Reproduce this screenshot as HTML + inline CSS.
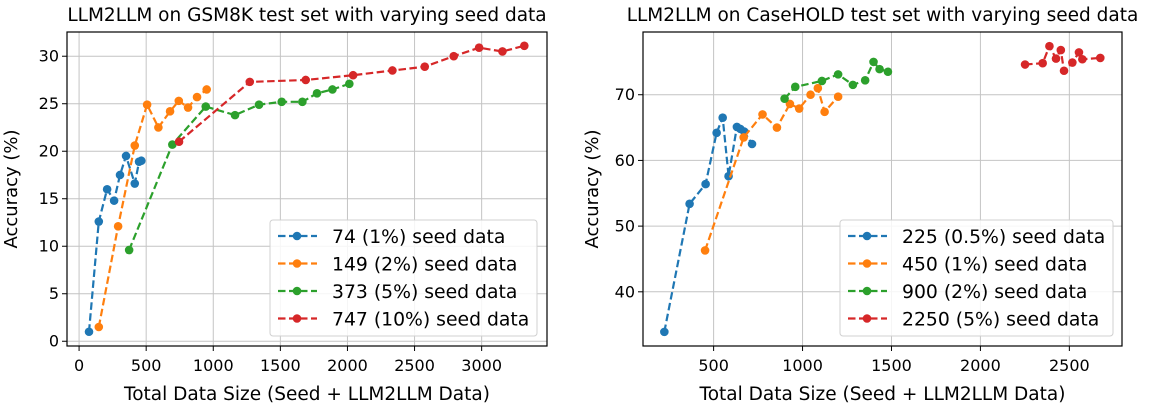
<!DOCTYPE html>
<html><head><meta charset="utf-8"><style>
html,body{margin:0;padding:0;background:#fff;}
svg{display:block;font-family:"DejaVu Sans","Liberation Sans",sans-serif;}
</style></head><body>
<svg id="fig" width="1149" height="411" viewBox="0 0 1149 411"></svg>
<script>
// ---- Left chart data (GSM8K) ----
const gsmLabels = ["74 (1%) seed data","149 (2%) seed data","373 (5%) seed data","747 (10%) seed data"];
const gsmX1 = [74,147,209,261,305,350,415,447,464];
const gsmY1 = [1.0,12.6,16.0,14.8,17.5,19.5,16.6,18.9,19.0];
const gsmX2 = [147,291,415,507,591,678,743,812,879,951];
const gsmY2 = [1.5,12.1,20.6,24.9,22.5,24.2,25.3,24.6,25.7,26.5];
const gsmX3 = [373,695,944,1162,1341,1510,1664,1773,1888,2014];
const gsmY3 = [9.6,20.7,24.7,23.8,24.9,25.2,25.2,26.1,26.5,27.1];
const gsmX4 = [745,1272,1689,2042,2335,2576,2792,2981,3155,3318];
const gsmY4 = [21.0,27.3,27.5,28.0,28.5,28.9,30.0,30.9,30.5,31.1];
const gsmXTicks = [0,500,1000,1500,2000,2500,3000];
const gsmYTicks = [0,5,10,15,20,25,30];
// ---- Right chart data (CaseHOLD) ----
const chLabels = ["225 (0.5%) seed data","450 (1%) seed data","900 (2%) seed data","2250 (5%) seed data"];
const chX1 = [223,365,455,517,551,584,631,650,672,716];
const chY1 = [33.9,53.4,56.4,64.2,66.5,57.6,65.1,64.8,64.4,62.5];
const chX2 = [452,669,775,856,929,981,1045,1086,1124,1200];
const chY2 = [46.3,63.5,67.0,65.0,68.6,67.9,70.0,71.0,67.4,69.7];
const chX3 = [899,959,1109,1200,1283,1352,1399,1433,1480];
const chY3 = [69.4,71.2,72.1,73.1,71.5,72.2,75.0,73.9,73.5];
const chX4 = [2251,2350,2388,2425,2452,2470,2517,2554,2573,2674];
const chY4 = [74.6,74.8,77.4,75.5,76.8,73.65,74.9,76.45,75.4,75.6];
const chXTicks = [500,1000,1500,2000,2500];
const chYTicks = [40,50,60,70];

const colors = ["#1f77b4","#ff7f0e","#2ca02c","#d62728"];
const NS = "http://www.w3.org/2000/svg";
const svg = document.getElementById("fig");
function mk(tag, attrs, parent){
  const e = document.createElementNS(NS, tag);
  for (const k in attrs) e.setAttribute(k, attrs[k]);
  (parent||svg).appendChild(e);
  return e;
}

function chart(cfg){
  const g = mk("g", {});
  
  
  const L=cfg.left, R=cfg.right, T=32, B=346;
  const sx = v => L + (v - cfg.xmin) / (cfg.xmax - cfg.xmin) * (R - L);
  const sy = v => B - (v - cfg.ymin) / (cfg.ymax - cfg.ymin) * (B - T);
  cfg.xticks.forEach(t => {
    const x = sx(t);
    const gl = mk("line", {x1:x,x2:x,y1:T,y2:B,stroke:"#c4c4c4","stroke-width":1}, g);
    
    
    mk("line", {x1:x,x2:x,y1:B,y2:B+5,stroke:"#000","stroke-width":1}, g);
    const tx = mk("text", {x:x,y:B+25,"text-anchor":"middle","font-size":16,fill:"#000"}, g);
    tx.textContent = t;
    
    
  });
  cfg.yticks.forEach(t => {
    const y = sy(t);
    const gl = mk("line", {x1:L,x2:R,y1:y,y2:y,stroke:"#c4c4c4","stroke-width":1}, g);
    
    
    mk("line", {x1:L-5,x2:L,y1:y,y2:y,stroke:"#000","stroke-width":1}, g);
    const tx = mk("text", {x:L-8,y:y+5.5,"text-anchor":"end","font-size":16,fill:"#000"}, g);
    tx.textContent = t;
    
    
  });
  cfg.series.forEach((s, i) => {
    const pts = s[0].map((xv, j) => sx(xv).toFixed(1) + "," + sy(s[1][j]).toFixed(1)).join(" ");
    const pl = mk("polyline", {points:pts,fill:"none",stroke:colors[i],"stroke-width":2.2,"stroke-dasharray":"7.5,3.5"}, g);
    
    
    s[0].forEach((xv, j) => {
      const c = mk("circle", {cx:sx(xv),cy:sy(s[1][j]),r:4.3,fill:colors[i]}, g);
      
      
    });
  });
  const fr = mk("rect", {x:L,y:T,width:R-L,height:B-T,fill:"none",stroke:"#000","stroke-width":1.2}, g);
  
  
  const ti = mk("text", {x:(L+R)/2,y:21,"text-anchor":"middle","font-size":18.5,fill:"#000"}, g);
  ti.textContent = cfg.title;
  
  
  const xl = mk("text", {x:(L+R)/2,y:400,"text-anchor":"middle","font-size":18.5,fill:"#000"}, g);
  xl.textContent = "Total Data Size (Seed + LLM2LLM Data)";
  
  
  const yl = mk("text", {x:0,y:0,"text-anchor":"middle","font-size":18,fill:"#000",transform:"translate("+cfg.ylabelX+","+((T+B)/2)+") rotate(-90)"}, g);
  yl.textContent = "Accuracy (%)";
  
  
  const lx = cfg.legX, ly = 220, lw = cfg.legW, lh = 116;
  const lg = mk("g", {}, g);
  
  
  mk("rect", {x:lx,y:ly,width:lw,height:lh,rx:3,fill:"#fff","fill-opacity":0.85,stroke:"#d0d0d0","stroke-width":1}, lg);
  cfg.labels.forEach((lab, i) => {
    const yy = ly + 16 + i * 27.5;
    const e = mk("g", {}, lg);
    
    
    mk("line", {x1:lx+8,x2:lx+47,y1:yy,y2:yy,stroke:colors[i],"stroke-width":2.2,"stroke-dasharray":"7.5,3.5"}, e);
    mk("circle", {cx:lx+27,cy:yy,r:4.3,fill:colors[i]}, e);
    const t = mk("text", {x:lx+62,y:yy+7,"font-size":18.8,fill:"#000"}, e);
    t.textContent = lab;
  });
}

chart({name:"gsm8k-chart", title:"LLM2LLM on GSM8K test set with varying seed data",
  left:67, right:547, xmin:-90, xmax:3487, ymin:-0.5, ymax:32.55,
  xticks:gsmXTicks, yticks:gsmYTicks, ylabelX:17, legX:270, legW:267, labels:gsmLabels,
  series:[[gsmX1,gsmY1],[gsmX2,gsmY2],[gsmX3,gsmY3],[gsmX4,gsmY4]]});
chart({name:"casehold-chart", title:"LLM2LLM on CaseHOLD test set with varying seed data",
  left:643, right:1122, xmin:103, xmax:2796, ymin:31.75, ymax:79.55,
  xticks:chXTicks, yticks:chYTicks, ylabelX:598, legX:840, legW:273, labels:chLabels,
  series:[[chX1,chY1],[chX2,chY2],[chX3,chY3],[chX4,chY4]]});
</script>
</body></html>
